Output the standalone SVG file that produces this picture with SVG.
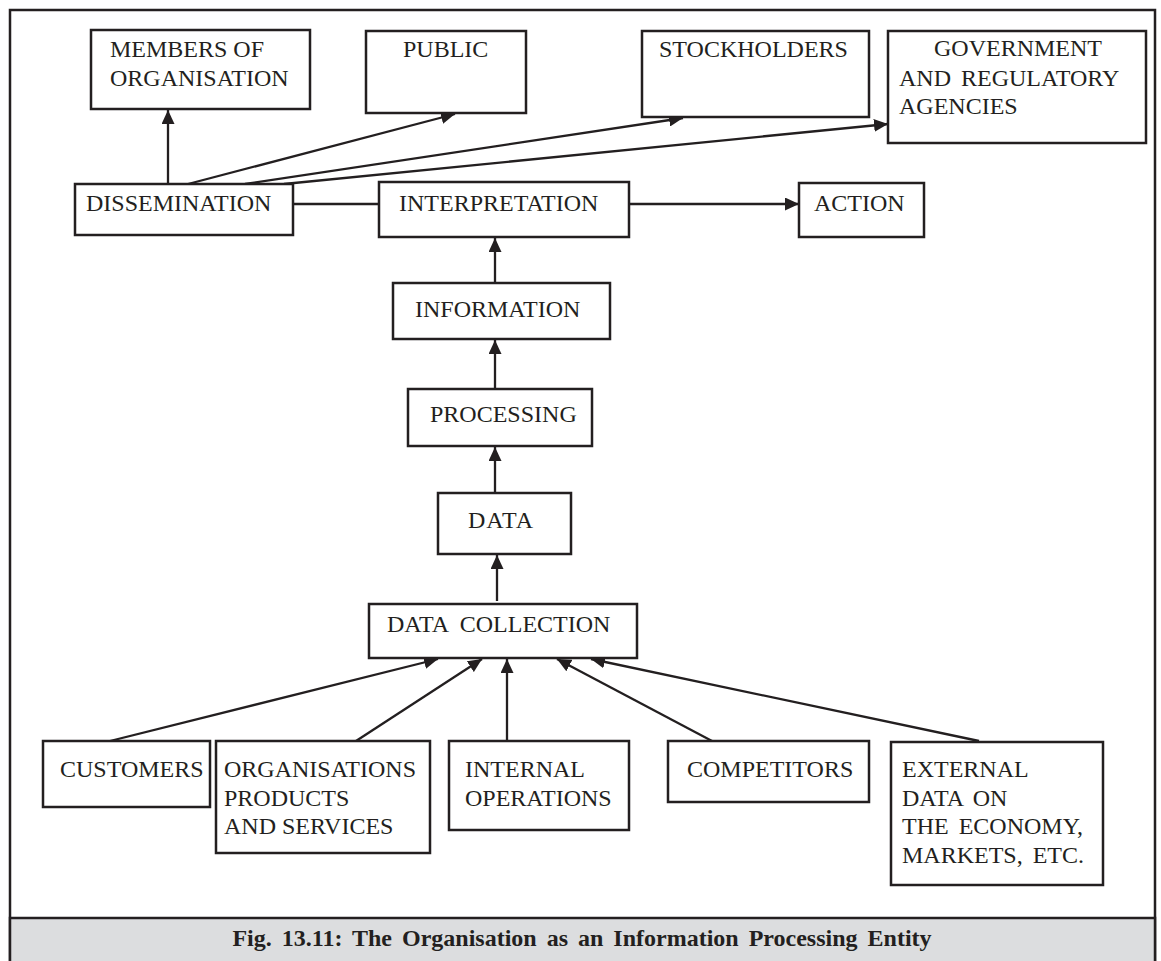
<svg xmlns="http://www.w3.org/2000/svg" width="1161" height="961" viewBox="0 0 1161 961">
  <style>
    .box { fill: #ffffff; stroke: #231f20; stroke-width: 2.5; }
    .lbl { font-family: "Liberation Serif", "Times New Roman", serif; font-size: 24px; fill: #231f20; }
    .cap { font-family: "Liberation Serif", "Times New Roman", serif; font-size: 24px; font-weight: bold; fill: #231f20; word-spacing: 4px; }
    .edge { fill: none; stroke: #231f20; stroke-width: 2.3; }
  </style>
  <defs>
    <marker id="arrow" markerUnits="userSpaceOnUse" markerWidth="15" markerHeight="13" refX="14" refY="6.5" orient="auto">
      <path d="M0,0 L14,6.5 L0,13 Z" fill="#231f20"/>
    </marker>
  </defs>

  <!-- outer frame and caption band -->
  <rect x="10" y="10" width="1145" height="960" fill="#ffffff" stroke="#231f20" stroke-width="2.5"/>
  <rect x="10" y="918" width="1145" height="52" fill="#dcdddf" stroke="#231f20" stroke-width="2.5"/>
  <text class="cap" x="582" y="946" text-anchor="middle">Fig. 13.11: The Organisation as an Information Processing Entity</text>

  <!-- connectors -->
  <g id="connectors">
    <line class="edge" x1="168" y1="184" x2="168" y2="110" marker-end="url(#arrow)"/>
    <line class="edge" x1="188" y1="184" x2="455" y2="114" marker-end="url(#arrow)"/>
    <line class="edge" x1="245" y1="184" x2="683" y2="118" marker-end="url(#arrow)"/>
    <line class="edge" x1="284" y1="184" x2="888" y2="124" marker-end="url(#arrow)"/>
    <line class="edge" x1="293" y1="204" x2="379" y2="204"/>
    <line class="edge" x1="629" y1="204" x2="799" y2="204" marker-end="url(#arrow)"/>
    <line class="edge" x1="495" y1="283" x2="495" y2="238" marker-end="url(#arrow)"/>
    <line class="edge" x1="495" y1="389" x2="495" y2="340" marker-end="url(#arrow)"/>
    <line class="edge" x1="495" y1="493" x2="495" y2="447" marker-end="url(#arrow)"/>
    <line class="edge" x1="497" y1="601" x2="497" y2="555" marker-end="url(#arrow)"/>
    <line class="edge" x1="110" y1="741" x2="438" y2="659" marker-end="url(#arrow)"/>
    <line class="edge" x1="356" y1="741" x2="482" y2="659" marker-end="url(#arrow)"/>
    <line class="edge" x1="507" y1="741" x2="507" y2="659" marker-end="url(#arrow)"/>
    <line class="edge" x1="712" y1="741" x2="557" y2="659" marker-end="url(#arrow)"/>
    <line class="edge" x1="979" y1="741" x2="591" y2="659" marker-end="url(#arrow)"/>
  </g>

  <!-- top row: audiences -->
  <g id="members">
    <rect class="box" x="91" y="30" width="219" height="79"/>
    <text class="lbl" x="110" y="57">MEMBERS OF</text>
    <text class="lbl" x="110" y="86">ORGANISATION</text>
  </g>
  <g id="public">
    <rect class="box" x="366" y="31" width="160" height="82"/>
    <text class="lbl" x="403" y="57">PUBLIC</text>
  </g>
  <g id="stockholders">
    <rect class="box" x="642" y="31" width="227" height="86"/>
    <text class="lbl" x="659" y="57">STOCKHOLDERS</text>
  </g>
  <g id="government">
    <rect class="box" x="888" y="31" width="258" height="112"/>
    <text class="lbl" x="934" y="56">GOVERNMENT</text>
    <text class="lbl" x="899" y="86" word-spacing="4">AND REGULATORY</text>
    <text class="lbl" x="899" y="114">AGENCIES</text>
  </g>

  <!-- middle row -->
  <g id="dissemination">
    <rect class="box" x="75" y="184" width="218" height="51"/>
    <text class="lbl" x="86" y="211">DISSEMINATION</text>
  </g>
  <g id="interpretation">
    <rect class="box" x="379" y="182" width="250" height="55"/>
    <text class="lbl" x="399" y="211">INTERPRETATION</text>
  </g>
  <g id="action">
    <rect class="box" x="799" y="183" width="125" height="54"/>
    <text class="lbl" x="814" y="211">ACTION</text>
  </g>

  <!-- processing chain -->
  <g id="information">
    <rect class="box" x="393" y="283" width="217" height="56"/>
    <text class="lbl" x="415" y="317">INFORMATION</text>
  </g>
  <g id="processing">
    <rect class="box" x="408" y="389" width="184" height="57"/>
    <text class="lbl" x="430" y="422">PROCESSING</text>
  </g>
  <g id="data">
    <rect class="box" x="438" y="493" width="133" height="61"/>
    <text class="lbl" x="468" y="528" letter-spacing="1">DATA</text>
  </g>
  <g id="data-collection">
    <rect class="box" x="369" y="604" width="268" height="54"/>
    <text class="lbl" x="387" y="632" word-spacing="6">DATA COLLECTION</text>
  </g>

  <!-- bottom row: sources -->
  <g id="customers">
    <rect class="box" x="43" y="741" width="167" height="66"/>
    <text class="lbl" x="60" y="777">CUSTOMERS</text>
  </g>
  <g id="organisations">
    <rect class="box" x="216" y="741" width="214" height="112"/>
    <text class="lbl" x="224" y="777">ORGANISATIONS</text>
    <text class="lbl" x="224" y="806">PRODUCTS</text>
    <text class="lbl" x="224" y="834">AND SERVICES</text>
  </g>
  <g id="internal">
    <rect class="box" x="449" y="741" width="180" height="89"/>
    <text class="lbl" x="465" y="777">INTERNAL</text>
    <text class="lbl" x="465" y="806">OPERATIONS</text>
  </g>
  <g id="competitors">
    <rect class="box" x="668" y="741" width="201" height="61"/>
    <text class="lbl" x="687" y="777">COMPETITORS</text>
  </g>
  <g id="external">
    <rect class="box" x="891" y="742" width="212" height="143"/>
    <text class="lbl" x="902" y="777">EXTERNAL</text>
    <text class="lbl" x="902" y="805.5" word-spacing="4">DATA ON</text>
    <text class="lbl" x="902" y="834" word-spacing="4">THE ECONOMY,</text>
    <text class="lbl" x="902" y="862.5" word-spacing="4">MARKETS, ETC.</text>
  </g>
</svg>
